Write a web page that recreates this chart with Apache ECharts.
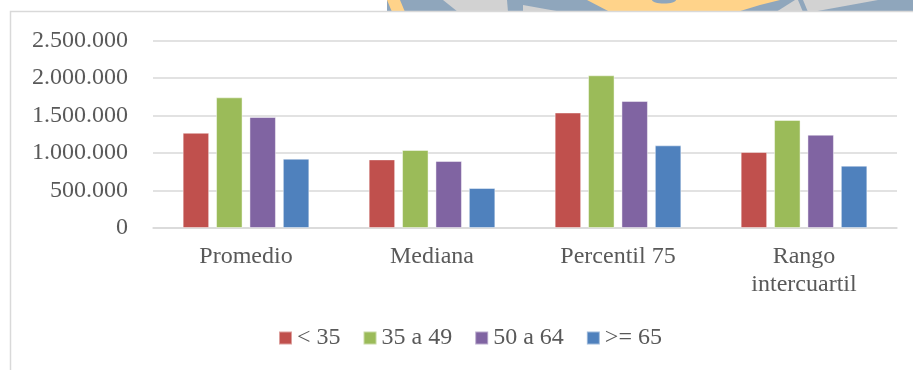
<!DOCTYPE html>
<html>
<head>
<meta charset="utf-8">
<style>
  html, body { margin: 0; padding: 0; background: #ffffff; }
  #chart { width: 913px; height: 370px; }
</style>
<script src="https://cdn.jsdelivr.net/npm/echarts@6/dist/echarts.min.js"></script>
</head>
<body>
<div id="chart"></div>
<script>
// Income statistics by age group
const categories = ['Promedio', 'Mediana', 'Percentil 75', 'Rango\nintercuartil'];
const groups = ['< 35', '35 a 49', '50 a 64', '>= 65'];
const menos35 = [1270000, 915000, 1540000, 1013000];
const de35a49 = [1742000, 1040000, 2036000, 1440000];
const de50a64 = [1480000, 893000, 1693000, 1244000];
const mas65 = [924000, 533000, 1102000, 831000];
const yTicks = [0, 500000, 1000000, 1500000, 2000000, 2500000];

const seriesValues = [menos35, de35a49, de50a64, mas65];
const colors = ['#C0504D', '#9BBB59', '#8064A2', '#4F81BD'];
const FONT = '"Liberation Serif", "DejaVu Serif", serif';
const TEXT = '#595959';

function miles(v) {
  return String(v).replace(/\B(?=(\d{3})+(?!\d))/g, '.');
}

const chart = echarts.init(document.getElementById('chart'), null, { renderer: 'canvas' });

const option = {
  animation: false,
  backgroundColor: '#ffffff',
  color: colors,
  graphic: [
    // faded logo band above the frame
    { type: 'rect', z: -10, shape: { x: 387, y: 0, width: 530, height: 12 }, style: { fill: '#8FA6BC' } },
    { type: 'polygon', z: -9, shape: { points: [[387, 0], [400, 0], [405, 12], [392, 12]] }, style: { fill: '#FFD38A' } },
    { type: 'polygon', z: -9, shape: { points: [[443, 0], [507, 0], [508, 12], [458, 12]] }, style: { fill: '#D2D2D2' } },
    { type: 'polygon', z: -9, shape: { points: [[523, 5], [562, 12], [523, 12]] }, style: { fill: '#D2D2D2' } },
    { type: 'polygon', z: -9, shape: { points: [[587, 0], [780, 0], [760, 5], [737, 12], [610, 12]] }, style: { fill: '#FFD38A' } },
    { type: 'ellipse', z: -8, shape: { cx: 664, cy: 0, rx: 12, ry: 3.5 }, style: { fill: '#8FA6BC' } },
    { type: 'polygon', z: -9, shape: { points: [[795, 0], [878, 0], [812, 12], [776, 12]] }, style: { fill: '#D2D2D2' } },
    { type: 'polygon', z: -8, shape: { points: [[798, 0], [803, 0], [808, 12], [803, 12]] }, style: { fill: '#8FA6BC' } },
    // chart frame
    { type: 'rect', z: -5, shape: { x: 10.5, y: 11.5, width: 1000, height: 1000 }, style: { fill: '#ffffff', stroke: '#D9D9D9', lineWidth: 1.5 } }
  ],
  grid: { left: 153, right: 16, top: 40.5, bottom: 142, containLabel: false },
  legend: {
    data: groups,
    left: 278,
    top: 326,
    padding: 0,
    itemWidth: 13,
    itemHeight: 13,
    itemGap: 22,
    icon: 'rect',
    textStyle: { fontFamily: FONT, fontSize: 24, color: TEXT }
  },
  xAxis: {
    type: 'category',
    data: categories,
    axisLine: { show: true, lineStyle: { color: '#D9D9D9', width: 1.5 } },
    axisTick: { show: false },
    axisLabel: {
      interval: 0,
      margin: 15,
      fontFamily: FONT,
      fontSize: 24,
      lineHeight: 28,
      color: TEXT,
      align: 'center'
    }
  },
  yAxis: {
    type: 'value',
    min: yTicks[0],
    max: yTicks[yTicks.length - 1],
    interval: yTicks[1] - yTicks[0],
    axisLine: { show: false },
    axisTick: { show: false },
    splitLine: { lineStyle: { color: '#D9D9D9', width: 1.5 } },
    axisLabel: {
      margin: 25,
      fontFamily: FONT,
      fontSize: 24,
      color: TEXT,
      formatter: miles
    }
  },
  series: groups.map((name, i) => ({
    name: name,
    type: 'bar',
    data: seriesValues[i],
    barWidth: 26.5,
    barGap: '26%',
    itemStyle: { color: colors[i], borderColor: 'rgba(255,255,255,0.45)', borderWidth: 1 }
  }))
};

chart.setOption(option);
</script>
</body>
</html>
